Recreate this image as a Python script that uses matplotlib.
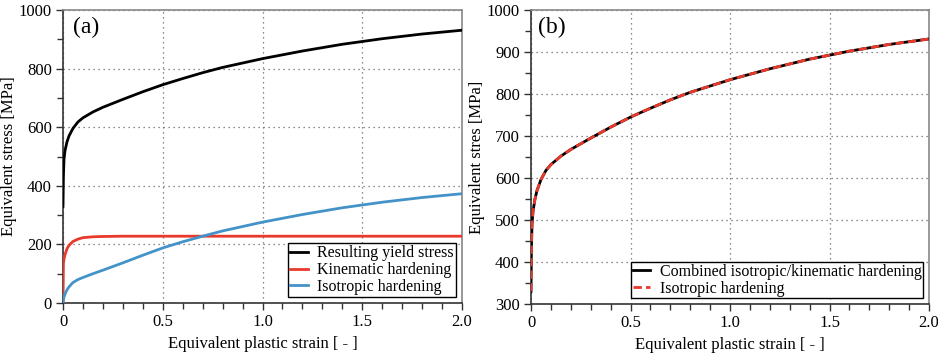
import numpy as np
import matplotlib
matplotlib.use('Agg')
import matplotlib.pyplot as plt
from matplotlib.ticker import MultipleLocator, FixedFormatter, FixedLocator

plt.rcParams['font.family'] = ['Liberation Serif', 'DejaVu Serif']

# Equivalent plastic strain sample points [-]
strain = [0, 0.002, 0.005, 0.01, 0.02, 0.03, 0.05, 0.075, 0.1, 0.15, 0.2, 0.3, 0.4,
          0.5, 0.6, 0.7, 0.8, 1.0, 1.2, 1.4, 1.6, 1.8, 2.0]

# Panel (a) curves [MPa]
yield_stress = [330, 430, 490, 520, 550, 570, 596, 618, 632, 652, 668, 695, 721,
                745, 766, 786, 804, 834, 860, 883, 902, 918, 931]
kinematic = [0, 135, 150, 165, 185, 197, 210, 218, 223, 226, 227, 228, 228,
             228, 228, 228, 228, 228, 228, 228, 228, 228, 228]
isotropic = [0, 12, 20, 30, 45, 55, 70, 80, 87, 100, 112, 137, 163,
             188, 209, 228, 246, 276, 302, 325, 344, 360, 373]

# Panel (b) curves [MPa] (both curves coincide)
combined = yield_stress
iso_only = yield_stress

red = '#e8392b'
blue = '#4393c8'

fig = plt.figure(figsize=(9.38, 3.56), dpi=100)
ax1 = fig.add_axes([63 / 938, 1 - 303 / 356, 399 / 938, 293 / 356])
ax2 = fig.add_axes([531 / 938, 1 - 304 / 356, 398 / 938, 294 / 356])


def style(ax, ymin, ymax, ymaj, ymin_step):
    ax.set_xlim(0, 2.0)
    ax.set_ylim(ymin, ymax)
    ax.xaxis.set_major_locator(FixedLocator([0, 0.5, 1.0, 1.5, 2.0]))
    ax.xaxis.set_major_formatter(FixedFormatter(['0', '0.5', '1.0', '1.5', '2.0']))
    ax.xaxis.set_minor_locator(MultipleLocator(0.1))
    ax.yaxis.set_major_locator(MultipleLocator(ymaj))
    ax.yaxis.set_minor_locator(MultipleLocator(ymin_step))
    ax.tick_params(which='major', direction='out', length=5, width=1, labelsize=12,
                   color='#333333', pad=3)
    ax.tick_params(which='minor', direction='out', length=4, width=1, color='#333333')
    ax.tick_params(top=False, right=False)
    ax.grid(True, which='major', linestyle=(0, (1, 3)), color='#666666', linewidth=0.9)
    for s in ['left', 'bottom']:
        ax.spines[s].set_color('#333333')
        ax.spines[s].set_linewidth(1.2)
    for s in ['top', 'right']:
        ax.spines[s].set_color('#888888')
        ax.spines[s].set_linewidth(1.2)
    ax.set_xlabel('Equivalent plastic strain [ - ]', fontsize=12, labelpad=4)


# Panel (a)
ax1.plot(strain, yield_stress, color='black', lw=2, label='Resulting yield stress', zorder=3)
ax1.plot(strain, kinematic, color=red, lw=2, label='Kinematic hardening', zorder=3)
ax1.plot(strain, isotropic, color=blue, lw=2, label='Isotropic hardening', zorder=3)
style(ax1, 0, 1000, 200, 100)
ax1.set_ylabel('Equivalent stress [MPa]', fontsize=12, labelpad=1)
ax1.text(0.025, 0.975, '(a)', transform=ax1.transAxes, fontsize=17, va='top', ha='left')
leg1 = ax1.legend(loc='lower right', fontsize=11.5, frameon=True, fancybox=False,
                  framealpha=1, edgecolor='black', handlelength=1.1, handletextpad=0.6,
                  borderpad=0.15, labelspacing=0.05, borderaxespad=0.35)
leg1.get_frame().set_linewidth(1)

# Panel (b)
ax2.plot(strain, combined, color='black', lw=2,
         label='Combined isotropic/kinematic hardening', zorder=3)
ax2.plot(strain, iso_only, color=red, lw=2, ls=(0, (3, 1.5)),
         label='Isotropic hardening', zorder=4)
style(ax2, 300, 1000, 100, 50)
ax2.set_ylabel('Equivalent stres [MPa]', fontsize=12, labelpad=1)
ax2.text(0.018, 0.975, '(b)', transform=ax2.transAxes, fontsize=17, va='top', ha='left')
leg2 = ax2.legend(loc='lower right', fontsize=11.5, frameon=True, fancybox=False,
                  framealpha=1, edgecolor='black', handlelength=1.1, handletextpad=0.6,
                  borderpad=0.1, labelspacing=0.05, borderaxespad=0.35)
leg2.get_frame().set_linewidth(1)

fig.savefig('out.png', dpi=100)
